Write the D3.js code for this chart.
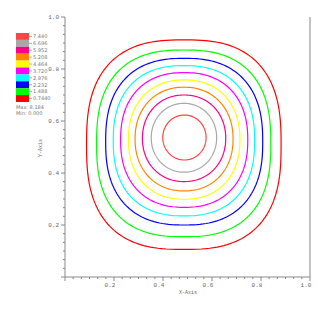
<!DOCTYPE html>
<html lang="en">
<head>
    <meta charset="UTF-8">
    <title>Contour Plot</title>
    <script src="https://d3js.org/d3.v7.min.js"></script>
    <style>
        body { margin: 0; background: #fff; }
        .tick-label { font: 6px "Liberation Mono", monospace; fill: #666; }
        .legend-text { font: 5px "DejaVu Sans", sans-serif; fill: #777; }
        .axis-line { stroke: #888; stroke-width: 1; fill: none; }
        .contour { fill: none; stroke-width: 1.2; }
    </style>
</head>
<body>
    <svg id="chart"></svg>
    <script>
        // contour levels (VisIt style, 10 levels between min 0 and max 8.184)
        var levels = [0.744, 1.488, 2.232, 2.976, 3.720, 4.464, 5.208, 5.952, 6.696, 7.440];
        var levelLabels = ["0.7440", "1.488", "2.232", "2.976", "3.720", "4.464", "5.208", "5.952", "6.696", "7.440"];
        var levelColors = ["#ff0000", "#00ff00", "#0000ff", "#00ffff", "#ff00ff", "#ffff00", "#ff8700", "#ff0087", "#a8a8a8", "#ff4444"];

        // extents of each contour line (data units)
        var leftX   = [0.088, 0.129, 0.166, 0.197, 0.227, 0.259, 0.286, 0.316, 0.352, 0.399];
        var rightX  = [0.882, 0.840, 0.807, 0.774, 0.746, 0.714, 0.686, 0.656, 0.619, 0.576];
        var bottomY = [0.106, 0.155, 0.200, 0.235, 0.268, 0.299, 0.331, 0.367, 0.403, 0.450];
        var topY    = [0.912, 0.873, 0.841, 0.813, 0.786, 0.758, 0.730, 0.700, 0.668, 0.623];
        var squareness = [2.65, 2.55, 2.45, 2.38, 2.3, 2.22, 2.15, 2.1, 2.04, 2.0];

        var xTicks = [0.2, 0.4, 0.6, 0.8, 1.0];
        var yTicks = [0.2, 0.4, 0.6, 0.8, 1.0];
        var dataMax = "8.184", dataMin = "0.000";

        var W = 327, H = 327;
        var svg = d3.select("#chart").attr("width", W).attr("height", H);
        svg.append("rect").attr("width", W).attr("height", H).attr("fill", "#fff");

        var x = d3.scaleLinear().domain([0, 1]).range([65, 310]);
        var y = d3.scaleLinear().domain([0, 1]).range([277, 17]);

        // contours
        var line = d3.line()
            .x(function(d) { return x(d[0]); })
            .y(function(d) { return y(d[1]); })
            .curve(d3.curveLinearClosed);

        levels.forEach(function(lv, i) {
            var cx = (leftX[i] + rightX[i]) / 2, rx = (rightX[i] - leftX[i]) / 2;
            var cy = (bottomY[i] + topY[i]) / 2, ry = (topY[i] - bottomY[i]) / 2;
            var e = 2 / squareness[i];
            var pts = d3.range(0, 360, 2).map(function(a) {
                var t = a * Math.PI / 180, c = Math.cos(t), s = Math.sin(t);
                return [cx + rx * Math.sign(c) * Math.pow(Math.abs(c), e),
                        cy + ry * Math.sign(s) * Math.pow(Math.abs(s), e)];
            });
            svg.append("path")
                .attr("class", "contour")
                .attr("d", line(pts))
                .attr("stroke", levelColors[i]);
        });

        // axes
        var g = svg.append("g");
        g.append("line").attr("class", "axis-line")
            .attr("x1", x(0)).attr("x2", x(0)).attr("y1", y(1)).attr("y2", y(0));
        g.append("line").attr("class", "axis-line")
            .attr("x1", x(0)).attr("x2", x(1)).attr("y1", y(0)).attr("y2", y(0));
        g.append("line").attr("class", "axis-line")
            .attr("x1", x(1)).attr("x2", x(1)).attr("y1", y(1)).attr("y2", y(0));

        var minor = d3.range(0, 31).map(function(k) { return k / 30; });
        g.selectAll(".xminor").data(minor).enter().append("line")
            .attr("class", "axis-line")
            .attr("x1", function(d) { return x(d); }).attr("x2", function(d) { return x(d); })
            .attr("y1", y(0)).attr("y2", function(d, k) { return y(0) + (k % 6 === 0 ? 4 : 2); });
        g.selectAll(".yminor").data(minor).enter().append("line")
            .attr("class", "axis-line")
            .attr("y1", function(d) { return y(d); }).attr("y2", function(d) { return y(d); })
            .attr("x1", x(0)).attr("x2", function(d, k) { return x(0) - (k % 6 === 0 ? 4 : 2); });

        g.selectAll(".xlab").data(xTicks).enter().append("text")
            .attr("class", "tick-label")
            .attr("x", function(d) { return x(d) - 4; })
            .attr("y", y(0) + 10)
            .attr("text-anchor", "middle")
            .text(function(d) { return d.toFixed(1); });
        g.selectAll(".ylab").data(yTicks).enter().append("text")
            .attr("class", "tick-label")
            .attr("x", x(0) - 6)
            .attr("y", function(d) { return y(d) + 2; })
            .attr("text-anchor", "end")
            .text(function(d) { return d.toFixed(1); });

        svg.append("text").attr("class", "tick-label")
            .attr("x", 188).attr("y", 294).attr("text-anchor", "middle")
            .style("font-size", "5px")
            .text("X-Axis");
        svg.append("text").attr("class", "tick-label")
            .attr("transform", "translate(42,148) rotate(-90)")
            .attr("text-anchor", "middle")
            .style("font-size", "5px")
            .text("Y-Axis");

        // legend
        var sw = 6.9, top0 = 33;
        var order = d3.range(levels.length).reverse();
        var leg = svg.append("g");
        order.forEach(function(i, k) {
            leg.append("rect")
                .attr("x", 16).attr("y", top0 + k * sw)
                .attr("width", 13).attr("height", sw)
                .attr("fill", levelColors[i]);
            leg.append("line")
                .attr("x1", 29).attr("x2", 32)
                .attr("y1", top0 + k * sw + sw / 2).attr("y2", top0 + k * sw + sw / 2)
                .attr("stroke", "#888").attr("stroke-width", 0.7);
            leg.append("text").attr("class", "legend-text")
                .attr("x", 33).attr("y", top0 + k * sw + sw / 2 + 1.8)
                .text(levelLabels[i]);
        });
        leg.append("text").attr("class", "legend-text")
            .attr("x", 16).attr("y", 109).text("Max: " + dataMax);
        leg.append("text").attr("class", "legend-text")
            .attr("x", 16).attr("y", 115).text("Min: " + dataMin);
    </script>
</body>
</html>
